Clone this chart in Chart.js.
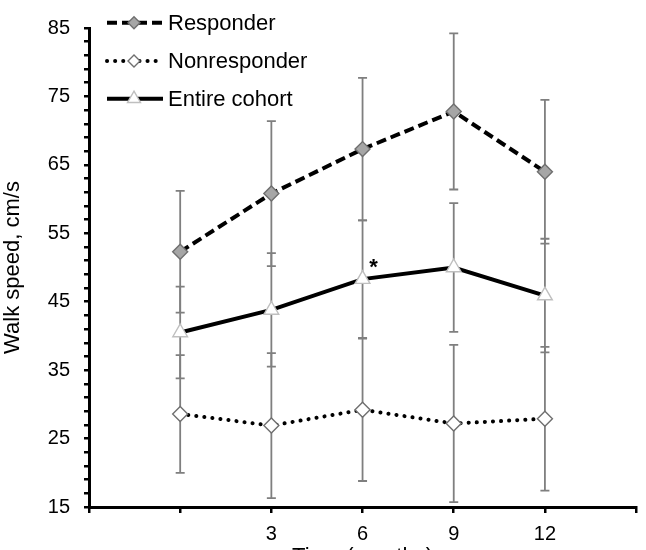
<!DOCTYPE html>
<html>
<head>
<meta charset="utf-8">
<script src="https://cdn.jsdelivr.net/npm/chart.js@4"></script>
<style>
  html, body { margin: 0; padding: 0; background: #fff; overflow: hidden; }
  #wrap { width: 646px; height: 570px; }
</style>
</head>
<body>
<div id="wrap"><canvas id="chart" width="646" height="570"></canvas></div>
<script>
const months = [0, 3, 6, 9, 12];
const xLabels = [3, 6, 9, 12];

const responder = [52.3, 60.8, 67.3, 72.8, 64.0];
const responderSd = [8.9, 10.6, 10.4, 11.4, 10.5];
const nonresponder = [28.6, 26.9, 29.2, 27.2, 27.9];
const nonresponderSd = [8.6, 10.6, 10.4, 11.5, 10.5];
const cohort = [40.5, 43.8, 48.3, 50.0, 45.9];
const cohortSd = [6.7, 8.3, 8.6, 9.4, 8.3];
const significant = [false, false, true, false, false];

const font = "'Liberation Sans', Arial, sans-serif";
const toPoints = arr => arr.map((y, i) => ({x: months[i], y}));

// error bars go under the lines
const errorBars = {
    id: 'errorBars',
    beforeDatasetsDraw(chart) {
        const {ctx, scales: {x, y}} = chart;
        ctx.save();
        ctx.strokeStyle = '#7f7f7f';
        ctx.lineWidth = 1.8;
        chart.data.datasets.forEach(ds => {
            ds.data.forEach((p, i) => {
                const px = x.getPixelForValue(p.x);
                const top = y.getPixelForValue(p.y + ds.sd[i]);
                const bot = y.getPixelForValue(p.y - ds.sd[i]);
                ctx.beginPath();
                ctx.moveTo(px, top); ctx.lineTo(px, bot);
                ctx.moveTo(px - 4.5, top); ctx.lineTo(px + 4.5, top);
                ctx.moveTo(px - 4.5, bot); ctx.lineTo(px + 4.5, bot);
                ctx.stroke();
            });
        });
        ctx.restore();
    }
};

// legend drawn by hand: dashed sample line with the marker on it
const sampleLegend = {
    id: 'sampleLegend',
    afterDraw(chart) {
        const ctx = chart.ctx;
        const rows = [22.7, 61, 98.7];
        ctx.save();
        chart.data.datasets.forEach((ds, i) => {
            const yy = rows[i];
            ctx.beginPath();
            ctx.setLineDash(ds.borderDash || []);
            ctx.lineCap = ds.borderCapStyle || 'butt';
            ctx.lineWidth = ds.borderWidth;
            ctx.strokeStyle = '#000';
            ctx.moveTo(107, yy); ctx.lineTo(163, yy);
            ctx.stroke();
            ctx.setLineDash([]);
            ctx.lineCap = 'butt';
            ctx.fillStyle = ds.pointBackgroundColor;
            ctx.strokeStyle = ds.pointBorderColor;
            ctx.lineWidth = 1.4;
            Chart.helpers.drawPoint(ctx, {
                pointStyle: ds.pointStyle,
                radius: ds.pointStyle === 'triangle' ? 7.5 : 6,
                rotation: 0,
                borderWidth: 1.4
            }, 134, yy);
            ctx.fillStyle = '#000';
            ctx.font = '22px ' + font;
            ctx.textBaseline = 'middle';
            ctx.textAlign = 'left';
            ctx.fillText(ds.label, 168, yy + 1);
        });
        ctx.restore();
    }
};

const stars = {
    id: 'stars',
    afterDatasetsDraw(chart) {
        const {ctx, scales: {x, y}} = chart;
        ctx.save();
        ctx.fillStyle = '#000';
        ctx.font = 'bold 22px ' + font;
        ctx.textAlign = 'center';
        ctx.textBaseline = 'middle';
        significant.forEach((s, i) => {
            if (!s) return;
            ctx.fillText('*', x.getPixelForValue(months[i]) + 11, y.getPixelForValue(cohort[i]) - 11);
        });
        ctx.restore();
    }
};

new Chart(document.getElementById('chart'), {
    type: 'line',
    data: {
        datasets: [
            {
                label: 'Responder',
                data: toPoints(responder),
                sd: responderSd,
                borderColor: '#000',
                borderWidth: 4,
                borderDash: [10, 5],
                pointStyle: 'rectRot',
                pointRadius: 7.5,
                pointBackgroundColor: '#a6a6a6',
                pointBorderColor: '#6f6f6f',
                pointBorderWidth: 1.4,
                tension: 0
            },
            {
                label: 'Nonresponder',
                data: toPoints(nonresponder),
                sd: nonresponderSd,
                borderColor: '#000',
                borderWidth: 4,
                borderDash: [0.1, 8],
                borderCapStyle: 'round',
                pointStyle: 'rectRot',
                pointRadius: 7.5,
                pointBackgroundColor: '#fff',
                pointBorderColor: '#6f6f6f',
                pointBorderWidth: 1.4,
                tension: 0
            },
            {
                label: 'Entire cohort',
                data: toPoints(cohort),
                sd: cohortSd,
                borderColor: '#000',
                borderWidth: 4,
                pointStyle: 'triangle',
                pointRadius: 8.5,
                pointBackgroundColor: '#fff',
                pointBorderColor: '#bfbfbf',
                pointBorderWidth: 1.4,
                tension: 0
            }
        ]
    },
    options: {
        responsive: false,
        animation: false,
        layout: { padding: { top: 28, right: 5, left: 0, bottom: 0 } },
        plugins: {
            legend: { display: false },
            tooltip: { enabled: false }
        },
        scales: {
            x: {
                type: 'linear',
                min: -3,
                max: 15,
                afterFit(scale) { scale.height = 63; },
                afterBuildTicks(scale) {
                    scale.ticks = [-3, 0, 3, 6, 9, 12, 15].map(v => ({value: v}));
                },
                ticks: {
                    autoSkip: false,
                    maxRotation: 0,
                    padding: 9,
                    color: '#000',
                    font: { family: font, size: 20 },
                    callback: v => xLabels.includes(v) ? String(v) : ''
                },
                grid: { drawOnChartArea: false, tickLength: 6, color: '#000', lineWidth: 2.5 },
                border: { color: '#000', width: 3 },
                title: {
                    display: true,
                    text: 'Time (months)',
                    color: '#000',
                    font: { family: font, size: 22 },
                    padding: 0
                }
            },
            y: {
                min: 15,
                max: 85,
                afterFit(scale) { scale.width = 89; },
                ticks: {
                    stepSize: 2,
                    autoSkip: false,
                    padding: 14,
                    color: '#000',
                    font: { family: font, size: 20 },
                    callback: v => (v - 15) % 10 === 0 ? String(v) : ''
                },
                grid: { drawOnChartArea: false, tickLength: 5, color: '#000', lineWidth: 2.5 },
                border: { color: '#000', width: 3 },
                title: {
                    display: true,
                    text: 'Walk speed, cm/s',
                    color: '#000',
                    font: { family: font, size: 22 },
                    padding: { top: 0, bottom: 0 }
                }
            }
        }
    },
    plugins: [errorBars, stars, sampleLegend]
});
</script>
</body>
</html>
